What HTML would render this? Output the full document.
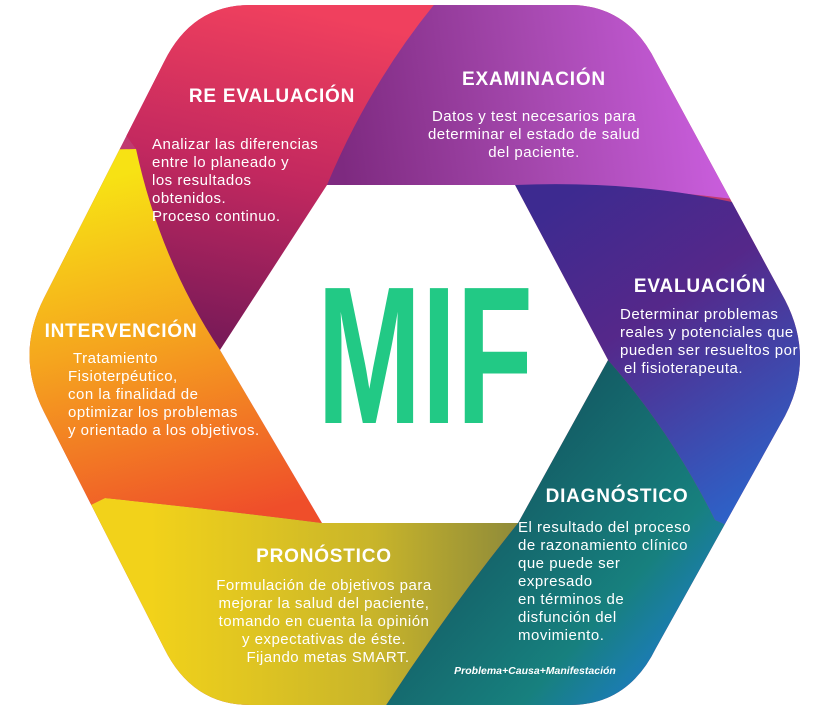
<!DOCTYPE html>
<html><head><meta charset="utf-8"><style>
html,body{margin:0;padding:0;background:#fff;}
svg{display:block;}
.h{font-family:"Liberation Sans",sans-serif;font-weight:bold;fill:#fff;font-size:19px;letter-spacing:0.8px;}
.b{font-family:"Liberation Sans",sans-serif;fill:#fff;font-size:15px;letter-spacing:0.5px;}
</style></head><body>
<svg width="821" height="710" viewBox="0 0 821 710" xmlns="http://www.w3.org/2000/svg">
<defs>
<clipPath id="hex">
<path d="M250,5 L570,5 Q628,5 656,62 L785,300 Q815,358 785,416 L656,648 Q628,705 570,705 L250,705 Q192,705 164,648 L44,412 Q15,355 44,298 L164,62 Q192,5 250,5 Z"/>
</clipPath>
<linearGradient id="gRe" gradientUnits="userSpaceOnUse" x1="300" y1="10" x2="230" y2="340"><stop offset="0" stop-color="#f0405e"/><stop offset="0.5" stop-color="#c2285f"/><stop offset="1" stop-color="#7a1a58"/></linearGradient>
<linearGradient id="gEx" gradientUnits="userSpaceOnUse" x1="340" y1="150" x2="730" y2="100"><stop offset="0" stop-color="#7e2a80"/><stop offset="0.5" stop-color="#a548ae"/><stop offset="1" stop-color="#cc5fe0"/></linearGradient>
<linearGradient id="gEv" gradientUnits="userSpaceOnUse" x1="560" y1="200" x2="760" y2="500"><stop offset="0" stop-color="#3d2a90"/><stop offset="0.4" stop-color="#55288a"/><stop offset="1" stop-color="#2d62c8"/></linearGradient>
<linearGradient id="gDi" gradientUnits="userSpaceOnUse" x1="560" y1="420" x2="760" y2="600"><stop offset="0" stop-color="#145e66"/><stop offset="0.6" stop-color="#17807e"/><stop offset="1" stop-color="#1e7ad0"/></linearGradient>
<linearGradient id="gPr" gradientUnits="userSpaceOnUse" x1="150" y1="600" x2="520" y2="600"><stop offset="0" stop-color="#f2d21a"/><stop offset="0.6" stop-color="#c9b52a"/><stop offset="1" stop-color="#8e8a3a"/></linearGradient>
<linearGradient id="gIn" gradientUnits="userSpaceOnUse" x1="140" y1="170" x2="230" y2="520"><stop offset="0" stop-color="#f7e214"/><stop offset="0.45" stop-color="#f5a51e"/><stop offset="1" stop-color="#ef4e2a"/></linearGradient>
</defs>
<g clip-path="url(#hex)">
<rect x="0" y="0" width="821" height="710" fill="#c03a70"/>
<path d="M220,350 Q160,260 136,149 L100,100 L150,-20 L455,-20 Q380,80 327,185 Z" fill="url(#gRe)"/>
<path d="M327,185 Q375,70 455,-20 L700,-20 L830,140 L733,199 Q620,185 515,185 Z" fill="url(#gEx)"/>
<path d="M515,185 Q640,180 745,205 L840,360 L760,540 L715,520 Q670,430 608,360 Z" fill="url(#gEv)"/>
<path d="M608,360 Q670,430 715,520 L760,540 L700,730 L370,730 Q440,620 518,523 Z" fill="url(#gDi)"/>
<path d="M518,523 Q440,620 370,730 L120,730 L60,520 L105,498 Q220,510 322,523 Z" fill="url(#gPr)"/>
<path d="M322,523 Q220,510 105,498 L60,520 L-10,355 L90,150 L136,149 Q160,260 220,350 Z" fill="url(#gIn)"/>
</g>
<path d="M327,185 L515,185 L608,360 L518,523 L322,523 L220,350 Z" fill="#fff"/>
<text x="317" y="423" font-family="Liberation Sans, sans-serif" font-weight="bold" font-size="196" fill="#22c985" textLength="216" lengthAdjust="spacingAndGlyphs">MIF</text>

<text class="h" x="272" y="102" text-anchor="middle">RE EVALUACIÓN</text>
<text class="b" x="152" y="149">Analizar las diferencias</text>
<text class="b" x="152" y="167">entre lo planeado y</text>
<text class="b" x="152" y="185">los resultados</text>
<text class="b" x="152" y="203">obtenidos.</text>
<text class="b" x="152" y="221">Proceso continuo.</text>

<text class="h" x="534" y="85" text-anchor="middle">EXAMINACIÓN</text>
<text class="b" x="534" y="121" text-anchor="middle">Datos y test necesarios para</text>
<text class="b" x="534" y="139" text-anchor="middle">determinar el estado de salud</text>
<text class="b" x="534" y="157" text-anchor="middle">del paciente.</text>

<text class="h" x="700" y="292" text-anchor="middle">EVALUACIÓN</text>
<text class="b" x="620" y="319">Determinar problemas</text>
<text class="b" x="620" y="337">reales y potenciales que</text>
<text class="b" x="620" y="355">pueden ser resueltos por</text>
<text class="b" x="624" y="373">el fisioterapeuta.</text>

<text class="h" x="121" y="337" text-anchor="middle">INTERVENCIÓN</text>
<text class="b" x="73" y="363">Tratamiento</text>
<text class="b" x="68" y="381">Fisioterpéutico,</text>
<text class="b" x="68" y="399">con la finalidad de</text>
<text class="b" x="68" y="417">optimizar los problemas</text>
<text class="b" x="68" y="435">y orientado a los objetivos.</text>

<text class="h" x="617" y="502" text-anchor="middle">DIAGNÓSTICO</text>
<text class="b" x="518" y="532">El resultado del proceso</text>
<text class="b" x="518" y="550">de razonamiento clínico</text>
<text class="b" x="518" y="568">que puede ser</text>
<text class="b" x="518" y="586">expresado</text>
<text class="b" x="518" y="604">en términos de</text>
<text class="b" x="518" y="622">disfunción del</text>
<text class="b" x="518" y="640">movimiento.</text>
<text x="535" y="674" text-anchor="middle" font-family="Liberation Sans, sans-serif" font-weight="bold" font-style="italic" font-size="10.5" fill="#fff">Problema+Causa+Manifestación</text>

<text class="h" x="324" y="562" text-anchor="middle">PRONÓSTICO</text>
<text class="b" x="324" y="590" text-anchor="middle">Formulación de objetivos para</text>
<text class="b" x="324" y="608" text-anchor="middle">mejorar la salud del paciente,</text>
<text class="b" x="324" y="626" text-anchor="middle">tomando en cuenta la opinión</text>
<text class="b" x="324" y="644" text-anchor="middle">y expectativas de éste.</text>
<text class="b" x="328" y="662" text-anchor="middle">Fijando metas SMART.</text>
</svg>
</body></html>
